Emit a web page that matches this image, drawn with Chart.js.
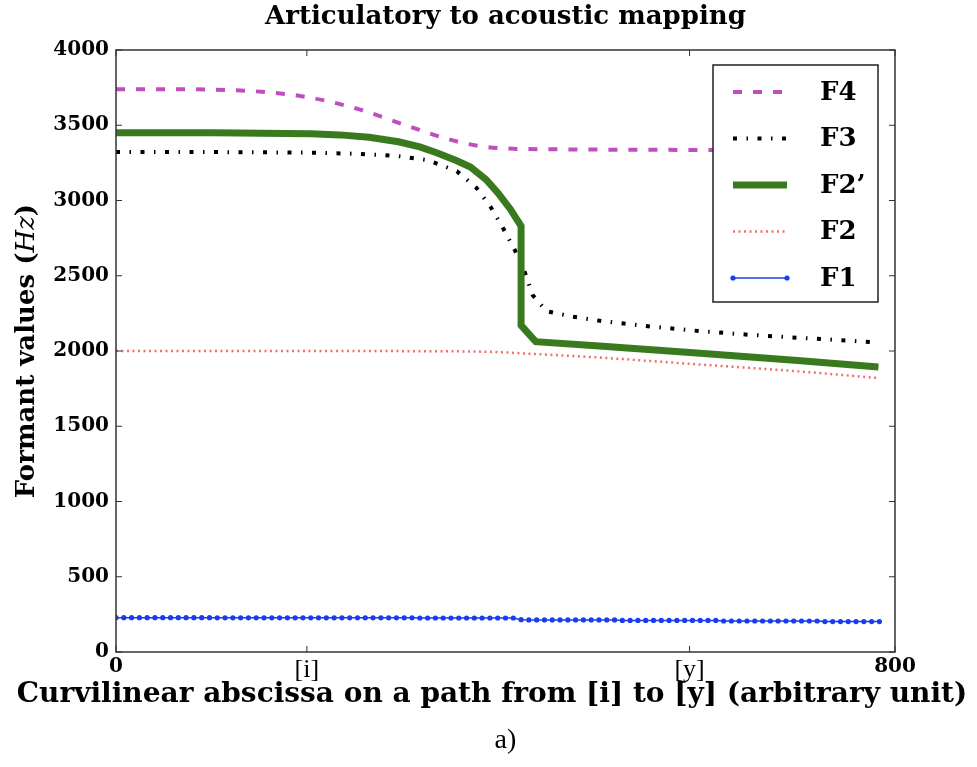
<!DOCTYPE html>
<html>
<head>
<meta charset="utf-8">
<script src="https://cdn.jsdelivr.net/npm/chart.js@4.4.0/dist/chart.umd.min.js"></script>
<style>
  body { margin: 0; background: #fff; }
</style>
</head>
<body>
<canvas id="myChart" width="977" height="767"></canvas>
<script>
/* global Chart */

// tick positions on the path axis
const xTickValues = [0, 196, 589, 800];
const xTickLabels = ['0', '[i]', '[y]', '800'];

// F1 sampled densely (one marker per sample)
const f1X = [0, 8, 16, 24, 32, 40, 48, 56, 64, 72, 80, 88, 96, 104, 112, 120, 128, 136, 144, 152,
  160, 168, 176, 184, 192, 200, 208, 216, 224, 232, 240, 248, 256, 264, 272, 280, 288, 296, 304, 312,
  320, 328, 336, 344, 352, 360, 368, 376, 384, 392, 400, 408, 416, 424, 432, 440, 448, 456, 464, 472,
  480, 488, 496, 504, 512, 520, 528, 536, 544, 552, 560, 568, 576, 584, 592, 600, 608, 616, 624, 632,
  640, 648, 656, 664, 672, 680, 688, 696, 704, 712, 720, 728, 736, 744, 752, 760, 768, 776, 784];
const f1Y = [228, 228, 228, 228, 228, 228, 228, 228, 228, 228, 228, 228, 228,
  227, 227, 227, 227, 227, 227, 227, 227, 227, 227, 227, 227, 227,
  227, 227, 227, 227, 227, 227, 227, 227, 227, 227, 227, 227, 227,
  226, 226, 226, 226, 226, 226, 226, 226, 226, 226, 226, 226, 226,
  215, 213, 213, 213, 213, 213, 213, 213, 213, 213, 213, 213, 213,
  210, 210, 210, 210, 210, 210, 210, 210, 210, 210, 210, 210, 210,
  206, 206, 206, 206, 206, 206, 206, 206, 206, 206, 206, 206, 206,
  202, 202, 202, 202, 202, 202, 202, 202];

const f2X = [0, 100, 200, 300, 380, 430, 500, 600, 700, 783];
const f2Y = [2000, 2000, 2000, 1999, 1995, 1980, 1955, 1910, 1865, 1820];

const f2pX = [0, 100, 200, 230, 260, 290, 312, 330, 350, 364, 380, 392, 405, 416, 416, 431, 500, 600, 700, 783];
const f2pY = [3450, 3450, 3443, 3436, 3420, 3390, 3356, 3316, 3264, 3222, 3140, 3052, 2942, 2830, 2170, 2062, 2032, 1985, 1937, 1893];

const f3X = [0, 100, 200, 250, 290, 320, 350, 370, 385, 398, 410, 420, 428, 442, 467, 500, 550, 600, 650, 700, 750, 783];
const f3Y = [3322, 3322, 3318, 3310, 3295, 3268, 3195, 3085, 2955, 2810, 2665, 2520, 2370, 2265, 2230, 2198, 2162, 2132, 2108, 2088, 2070, 2055];

const f4X = [0, 50, 100, 150, 200, 250, 300, 340, 370, 400, 450, 500, 600, 700, 783];
const f4Y = [3740, 3740, 3737, 3722, 3683, 3605, 3495, 3410, 3365, 3346, 3340, 3338, 3336, 3335, 3335];

function pts(xs, ys) {
  return xs.map((x, i) => ({ x: x, y: ys[i] }));
}

const boldSerif = 'DejaVu Serif';

// frame, inward ticks, axis titles and the boxed legend
const framePlugin = {
  id: 'frame',
  afterDatasetsDraw(chart) {
    const { ctx, chartArea: a, scales } = chart;
    ctx.save();
    ctx.strokeStyle = '#333';
    ctx.lineWidth = 1;
    scales.y.ticks.forEach(t => {
      const py = scales.y.getPixelForValue(t.value);
      ctx.beginPath();
      ctx.moveTo(a.left, py); ctx.lineTo(a.left + 6, py);
      ctx.moveTo(a.right, py); ctx.lineTo(a.right - 6, py);
      ctx.stroke();
    });
    xTickValues.forEach(v => {
      const px = scales.x.getPixelForValue(v);
      ctx.beginPath();
      ctx.moveTo(px, a.bottom); ctx.lineTo(px, a.bottom - 6);
      ctx.moveTo(px, a.top); ctx.lineTo(px, a.top + 6);
      ctx.stroke();
    });
    ctx.lineWidth = 1.5;
    ctx.strokeRect(a.left, a.top, a.right - a.left, a.bottom - a.top);

    // legend
    const lx = a.right - 182, ly = a.top + 15, lw = 165, lh = 237;
    ctx.fillStyle = '#fff';
    ctx.fillRect(lx, ly, lw, lh);
    ctx.strokeStyle = '#222';
    ctx.lineWidth = 1.5;
    ctx.strokeRect(lx, ly, lw, lh);
    const items = chart.data.datasets.slice().reverse();
    items.forEach((ds, i) => {
      const y = ly + 27 + i * 46.5;
      const x0 = lx + 20, x1 = lx + 74;
      ctx.save();
      ctx.strokeStyle = ds.borderColor;
      ctx.lineWidth = ds.borderWidth;
      ctx.setLineDash(ds.borderDash || []);
      ctx.beginPath();
      ctx.moveTo(x0, y); ctx.lineTo(x1, y);
      ctx.stroke();
      if (ds.pointRadius) {
        ctx.fillStyle = ds.pointBackgroundColor;
        [x0, x1].forEach(px => {
          ctx.beginPath();
          ctx.arc(px, y, ds.pointRadius, 0, Math.PI * 2);
          ctx.fill();
        });
      }
      ctx.restore();
      ctx.fillStyle = '#000';
      ctx.font = 'bold 26px "' + boldSerif + '"';
      ctx.textBaseline = 'middle';
      ctx.textAlign = 'left';
      ctx.fillText(ds.label, lx + 107, y + 1);
    });

    // x axis title (drawn here so it is not squeezed to the axis width)
    ctx.fillStyle = '#000';
    ctx.textAlign = 'center';
    ctx.textBaseline = 'middle';
    ctx.font = 'bold 28px "' + boldSerif + '"';
    ctx.fillText('Curvilinear abscissa on a path from [i] to [y] (arbitrary unit)', 492, 695);

    // y axis title with italic Hz
    const parts = [
      ['Formant values (', 'bold 26px "' + boldSerif + '"'],
      ['Hz', 'italic 26px "' + boldSerif + '"'],
      [')', 'bold 26px "' + boldSerif + '"']
    ];
    let total = 0;
    parts.forEach(p => { ctx.font = p[1]; total += ctx.measureText(p[0]).width; });
    ctx.translate(27, (a.top + a.bottom) / 2);
    ctx.rotate(-Math.PI / 2);
    ctx.textAlign = 'left';
    let cx = -total / 2;
    parts.forEach(p => {
      ctx.font = p[1];
      ctx.fillText(p[0], cx, 0);
      cx += ctx.measureText(p[0]).width;
    });
    ctx.restore();
  }
};

const ctx = document.getElementById('myChart').getContext('2d');
const myChart = new Chart(ctx, {
  type: 'line',
  data: {
    datasets: [{
      label: 'F1',
      data: pts(f1X, f1Y),
      borderColor: '#1a3cf0',
      borderWidth: 1.5,
      pointRadius: 2.6,
      pointBackgroundColor: '#1a3cf0',
      pointBorderWidth: 0,
      tension: 0
    }, {
      label: 'F2',
      data: pts(f2X, f2Y),
      borderColor: '#f07070',
      borderWidth: 2.5,
      borderDash: [2, 3.5],
      pointRadius: 0,
      cubicInterpolationMode: 'monotone'
    }, {
      label: 'F2\u2019',
      data: pts(f2pX, f2pY),
      borderColor: '#3a7a1f',
      borderWidth: 7,
      pointRadius: 0,
      tension: 0
    }, {
      label: 'F3',
      data: pts(f3X, f3Y),
      borderColor: '#000',
      borderWidth: 4,
      borderDash: [4, 9.5, 1.5, 9.5],
      pointRadius: 0,
      tension: 0
    }, {
      label: 'F4',
      data: pts(f4X, f4Y),
      borderColor: '#bf4fbf',
      borderWidth: 4,
      borderDash: [9, 11],
      pointRadius: 0,
      cubicInterpolationMode: 'monotone'
    }]
  },
  options: {
    responsive: false,
    animation: false,
    layout: { padding: { left: 0, right: 82, top: 0, bottom: 0 } },
    plugins: {
      legend: { display: false },
      tooltip: { enabled: false },
      title: {
        display: true,
        fullSize: false,
        text: 'Articulatory to acoustic mapping',
        color: '#000',
        font: { family: boldSerif, weight: 'bold', size: 26 },
        padding: { top: 2, bottom: 16.8 }
      },
      subtitle: {
        display: true,
        fullSize: false,
        position: 'bottom',
        text: 'a)',
        color: '#000',
        font: { family: 'Liberation Serif', size: 28 },
        padding: { top: 0, bottom: 10 }
      }
    },
    scales: {
      x: {
        type: 'linear',
        min: 0,
        max: 800,
        afterFit: s => { s.height = 71.4; },
        afterBuildTicks: s => { s.ticks = xTickValues.map(v => ({ value: v })); },
        grid: { display: false, drawTicks: false },
        border: { display: false },
        ticks: {
          autoSkip: false,
          maxRotation: 0,
          padding: 3,
          color: '#000',
          callback: (v, i) => xTickLabels[i],
          font: c => (xTickLabels[c.index] || '').startsWith('[')
            ? { family: 'Liberation Serif', size: 26 }
            : { family: boldSerif, weight: 'bold', size: 20 }
        }
      },
      y: {
        min: 0,
        max: 4000,
        afterFit: s => { s.width = 116; },
        grid: { display: false, drawTicks: false },
        border: { display: false },
        ticks: {
          stepSize: 500,
          padding: 7,
          color: '#000',
          callback: v => String(v),
          font: { family: boldSerif, weight: 'bold', size: 20 }
        }
      }
    }
  },
  plugins: [framePlugin]
});
</script>
</body>
</html>
